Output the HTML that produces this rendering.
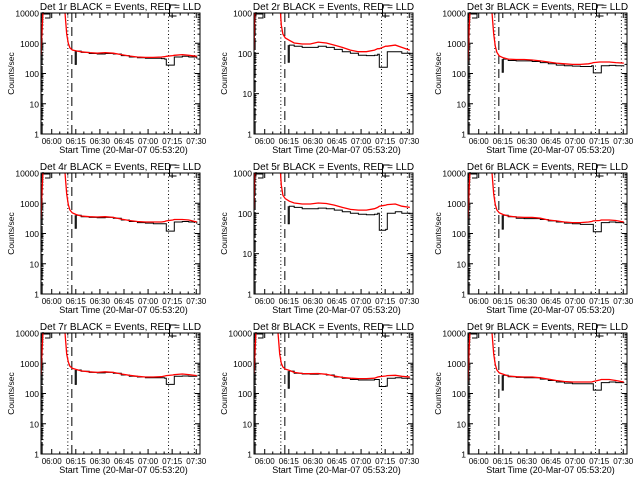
<!DOCTYPE html>
<html><head><meta charset="utf-8"><style>
html,body{margin:0;padding:0;background:#fff;width:640px;height:480px;overflow:hidden}
svg text{font-family:"Liberation Sans",sans-serif;fill:#000}
</style></head><body>
<svg id="chart" width="640" height="480" viewBox="0 0 640 480" xmlns="http://www.w3.org/2000/svg"></svg>
<script>
// shared time axis (minutes after 05:53:20)
const redTimes=[0,0.7,1.5,14.5,16,17,18,19.5,22,25,30,35,40,45,50,55,60,65,70,75,77,78,82,83,88,92,97];
const blackTimes=[21.3,22,25,30,35,40,45,50,55,60,65,70,75,77,78,82,83,88,92,97];
const xTickLabels=["06:00","06:15","06:30","06:45","07:00","07:15","07:30"];
const xTickMinutes=[6.67,21.67,36.67,51.67,66.67,81.67,96.67];
const yTickLabels=["1","10","100","1000","10000"];
const dottedTimes=[16.7,79.4,95.5];
const dashedTime=19.2;
const detNames=["1r","2r","3r","4r","5r","6r","7r","8r","9r"];
const yMaxDecade=[4,3,4,4,3,4,4,4,4];
const red1=[400,3000,20000,20000,2000,1000,700,600,560,520,490,470,490,470,420,380,350,340,340,350,360,370,390,400,420,400,370];
const red2=[120,3000,20000,20000,2000,500,300,240,210,180,170,170,190,180,160,140,120,110,110,120,130,130,150,150,160,140,120];
const red3=[250,3000,20000,20000,2000,800,500,380,330,300,290,290,280,260,240,220,210,200,200,210,220,230,240,240,240,230,220];
const red4=[300,3000,20000,20000,2000,900,600,480,420,380,360,350,360,340,300,270,250,240,240,240,250,260,280,290,290,280,240];
const red5=[130,3000,20000,20000,2000,500,280,230,200,180,170,170,180,175,160,140,125,120,120,130,140,150,160,165,170,150,140];
const red6=[300,3000,20000,20000,2000,900,600,480,420,380,350,340,340,320,280,260,240,230,230,240,250,260,270,280,280,270,240];
const red7=[400,3000,20000,20000,2000,1100,800,680,620,560,520,500,520,500,440,400,370,350,350,360,380,390,410,420,440,420,390];
const red8=[450,3000,20000,20000,2000,1000,750,640,580,500,460,450,460,430,380,340,320,310,310,320,350,360,380,390,400,370,350];
const red9=[250,3000,20000,20000,2000,900,600,480,430,380,360,350,350,330,300,270,250,240,240,240,240,250,280,290,290,270,240];
const black1=[200,550,500,460,440,460,440,390,350,330,320,320,310,300,190,190,350,370,350,310];
const black2=[60,160,150,140,140,150,140,125,110,100,90,88,90,95,45,45,110,110,100,90];
const black3=[110,300,270,260,260,250,230,210,190,180,175,170,170,180,105,105,180,185,180,170];
const black4=[150,400,360,340,330,340,320,280,250,230,220,210,210,210,120,120,240,250,240,210];
const black5=[55,150,140,130,130,135,130,120,110,100,95,92,95,100,38,40,100,110,100,95];
const black6=[140,400,360,320,310,310,290,260,240,220,210,200,200,200,115,115,230,240,230,210];
const black7=[200,600,540,500,480,500,470,410,370,350,330,330,330,320,200,200,370,380,370,360];
const black8=[150,550,470,440,430,440,410,350,320,290,280,280,290,290,170,175,320,330,320,310];
const black9=[130,400,360,340,330,330,300,270,240,220,210,210,210,210,130,130,230,240,230,220];
const reds=[red1,red2,red3,red4,red5,red6,red7,red8,red9];
const blacks=[black1,black2,black3,black4,black5,black6,black7,black8,black9];

const NS="http://www.w3.org/2000/svg";
const svg=document.getElementById('chart');
const lefts=[41,254,468];
const W=159,H=121,TMAX=99;
function mk(tag,attrs,parent){const e=document.createElementNS(NS,tag);for(const k in attrs)e.setAttribute(k,attrs[k]);(parent||svg).appendChild(e);return e;}

for(let p=0;p<9;p++){
  const col=p%3,row=Math.floor(p/3);
  const L=lefts[col],T=13+160*row,R=L+W,B=T+H;
  const dmax=yMaxDecade[p];
  const xS=t=>L+t/TMAX*W;
  const yS=v=>B-Math.log10(Math.max(v,0.01))/dmax*H;
  const g=mk('g',{});
  
  
  const cp=mk('clipPath',{id:'c'+p},g);
  mk('rect',{x:L,y:T,width:W,height:H},cp);
  const tt=mk('text',{x:L+W/2,y:T-3,'font-size':'10','text-anchor':'middle'},g);
  tt.textContent='Det '+detNames[p]+' BLACK = Events, RED = LLD';
  
  
  for(let d=0;d<=dmax;d++){
    const y=yS(Math.pow(10,d));
    const lb=mk('text',{x:L-2,y:y+3.5,'font-size':'8.5','text-anchor':'end'},g);
    lb.textContent=yTickLabels[d];
    
    
    mk('line',{x1:L,x2:L+5,y1:y,y2:y,stroke:'#000','stroke-width':1},g);
    mk('line',{x1:R,x2:R-5,y1:y,y2:y,stroke:'#000','stroke-width':1},g);
    if(d<dmax)for(let m=2;m<10;m++){const ym=yS(m*Math.pow(10,d));
      mk('line',{x1:L,x2:L+2.5,y1:ym,y2:ym,stroke:'#000','stroke-width':1},g);
      mk('line',{x1:R,x2:R-2.5,y1:ym,y2:ym,stroke:'#000','stroke-width':1},g);}
  }
  const yt=mk('text',{x:0,y:0,'font-size':'8.5','text-anchor':'middle',transform:`translate(${L-27},${(T+B)/2}) rotate(-90)`},g);
  yt.textContent='Counts/sec';
  
  
  for(let i=0;i<xTickMinutes.length;i++){
    const x=xS(xTickMinutes[i]);
    mk('line',{x1:x,x2:x,y1:B,y2:B-5,stroke:'#000'},g);
    mk('line',{x1:x,x2:x,y1:T,y2:T+5,stroke:'#000'},g);
    for(let m=1;m<3;m++){const xm=xS(xTickMinutes[i]+m*5);if(xm<R){
      mk('line',{x1:xm,x2:xm,y1:B,y2:B-2.5,stroke:'#000'},g);
      mk('line',{x1:xm,x2:xm,y1:T,y2:T+2.5,stroke:'#000'},g);}}
    const xl=mk('text',{x:x,y:B+10,'font-size':'8','text-anchor':'middle'},g);
    xl.textContent=xTickLabels[i];
    
    
  }
  const xt=mk('text',{x:L+W/2+3,y:B+19,'font-size':'9','text-anchor':'middle'},g);
  xt.textContent='Start Time (20-Mar-07 05:53:20)';
  
  
  for(const t of dottedTimes){const x=xS(t);
    const l=mk('line',{x1:x,x2:x,y1:T,y2:B,stroke:'#000','stroke-dasharray':'1,2.5'},g);
    
    }
  const dx=xS(dashedTime);
  const dl=mk('line',{x1:dx,x2:dx,y1:T,y2:B,stroke:'#000','stroke-dasharray':'9,5'},g);
  
  
  const sm=mk('path',{d:`M${L+2},${T+1}h7v4h-5M${L+2},${T-1}v4`,fill:'none',stroke:'#000'},g);
  
  
  const ex=xS(dottedTimes[1])+1;
  const em=mk('path',{d:`M${ex+7},${T-8}h-7v11h7`,fill:'none',stroke:'#000'},g);
  
  
  const cg=mk('g',{'clip-path':`url(#c${p})`},g);
  const bl0=mk('path',{d:`M${xS(0.7)},${B}V${T}`,fill:'none',stroke:'#000','stroke-dasharray':'12,2'},cg);
  
  
  let db='M'+xS(blackTimes[0]).toFixed(1)+','+yS(blacks[p][1]).toFixed(1);
  blackTimes.forEach((t,i)=>{db+=(i?'H'+xS(t).toFixed(1):'')+'V'+yS(blacks[p][i]).toFixed(1);});
  const bl=mk('path',{d:db,fill:'none',stroke:'#000','stroke-width':1},cg);
  
  
  let dr='';redTimes.forEach((t,i)=>{dr+=(i?'L':'M')+xS(t).toFixed(1)+','+yS(reds[p][i]).toFixed(1);});
  const rl=mk('path',{d:dr,fill:'none',stroke:'#f00','stroke-width':1.3},cg);
  
  
  const box=mk('rect',{x:L,y:T,width:W,height:H,fill:'none',stroke:'#000','stroke-width':1},g);
  
  
}
</script>
</body></html>
